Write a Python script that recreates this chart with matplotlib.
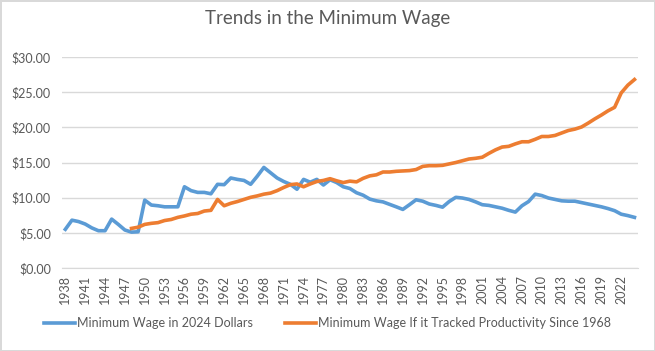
import matplotlib
matplotlib.use("Agg")
import matplotlib.pyplot as plt
from matplotlib.ticker import FuncFormatter, FixedLocator

plt.rcParams['font.family'] = ['Lato', 'DejaVu Sans']

years = list(range(1938, 2025))

# Minimum wage in 2024 dollars, 1938-2024
real_wage = [5.5, 6.8, 6.6, 6.25, 5.7, 5.3, 5.3, 6.95, 6.2, 5.4,
             5.1, 5.15, 9.65, 8.95, 8.85, 8.7, 8.7, 8.7, 11.55, 11.0,
             10.75, 10.75, 10.55, 11.9, 11.85, 12.8, 12.6, 12.45, 11.9, 13.05,
             14.3, 13.55, 12.8, 12.3, 11.9, 11.2, 12.6, 12.2, 12.6, 11.8,
             12.55, 12.15, 11.55, 11.3, 10.7, 10.35, 9.8, 9.55, 9.4, 9.05,
             8.7, 8.33, 9.0, 9.7, 9.5, 9.1, 8.9, 8.65, 9.45, 10.05,
             9.95, 9.75, 9.4, 9.0, 8.9, 8.7, 8.5, 8.2, 7.95, 8.85,
             9.45, 10.5, 10.3, 9.95, 9.75, 9.55, 9.5, 9.5, 9.3, 9.1,
             8.9, 8.7, 8.45, 8.15, 7.65, 7.45, 7.2]

# Minimum wage if it tracked productivity, 1948-2024
prod_years = list(range(1948, 2025))
prod_wage = [5.63, 5.8, 6.2, 6.35, 6.45, 6.75, 6.9, 7.2, 7.4, 7.65,
             7.75, 8.1, 8.2, 9.75, 8.85, 9.2, 9.45, 9.75, 10.05, 10.25,
             10.5, 10.65, 11.0, 11.45, 11.85, 11.95, 11.55, 11.95, 12.3, 12.45,
             12.7, 12.4, 12.15, 12.35, 12.25, 12.75, 13.1, 13.25, 13.65, 13.65,
             13.75, 13.8, 13.85, 14.0, 14.45, 14.55, 14.55, 14.6, 14.8, 15.0,
             15.25, 15.5, 15.6, 15.75, 16.3, 16.8, 17.2, 17.3, 17.65, 17.95,
             17.95, 18.3, 18.7, 18.7, 18.85, 19.2, 19.55, 19.75, 20.05, 20.6,
             21.2, 21.75, 22.35, 22.85, 24.9, 26.0, 26.8]

tick_years = list(range(1938, 2023, 3))

grey = "#595959"

fig = plt.figure(figsize=(6.55, 3.51), dpi=100)
fig.patch.set_edgecolor("#D9D9D9")
fig.patch.set_linewidth(2)
ax = fig.add_axes([0.0947, 0.2365, 0.879, 0.601])

ax.plot(years, real_wage, color="#5B9BD5", lw=2.6, solid_joinstyle="round",
        label="Minimum Wage in 2024 Dollars")
ax.plot(prod_years, prod_wage, color="#ED7D31", lw=2.6, solid_joinstyle="round",
        label="Minimum Wage If it Tracked Productivity Since 1968")

ax.set_xlim(1937.5, 2024.5)
ax.set_ylim(0, 30)
ax.set_yticks([0, 5, 10, 15, 20, 25, 30])
ax.yaxis.set_major_formatter(FuncFormatter(lambda v, p: "${:.2f}".format(v)))
ax.xaxis.set_major_locator(FixedLocator(tick_years))
ax.set_xticklabels([str(y) for y in tick_years], rotation=90)
ax.tick_params(axis="both", length=0, labelsize=9, colors=grey)
ax.tick_params(axis="x", pad=5)
ax.tick_params(axis="y", pad=8)
ax.grid(axis="y", color="#D9D9D9", lw=1)
ax.set_axisbelow(True)
for s in ["top", "right", "left"]:
    ax.spines[s].set_visible(False)
ax.spines["bottom"].set_color("#D9D9D9")

fig.text(0.5, 0.948, "Trends in the Minimum Wage", ha="center", va="center",
         fontsize=13.5, color=grey)

fig.legend(loc="center", bbox_to_anchor=(0.5, 0.08), ncol=2, frameon=False,
           fontsize=9, labelcolor=grey, handlelength=2.5, handletextpad=0.2,
           columnspacing=2.5)

fig.savefig("out.png", dpi=100)
